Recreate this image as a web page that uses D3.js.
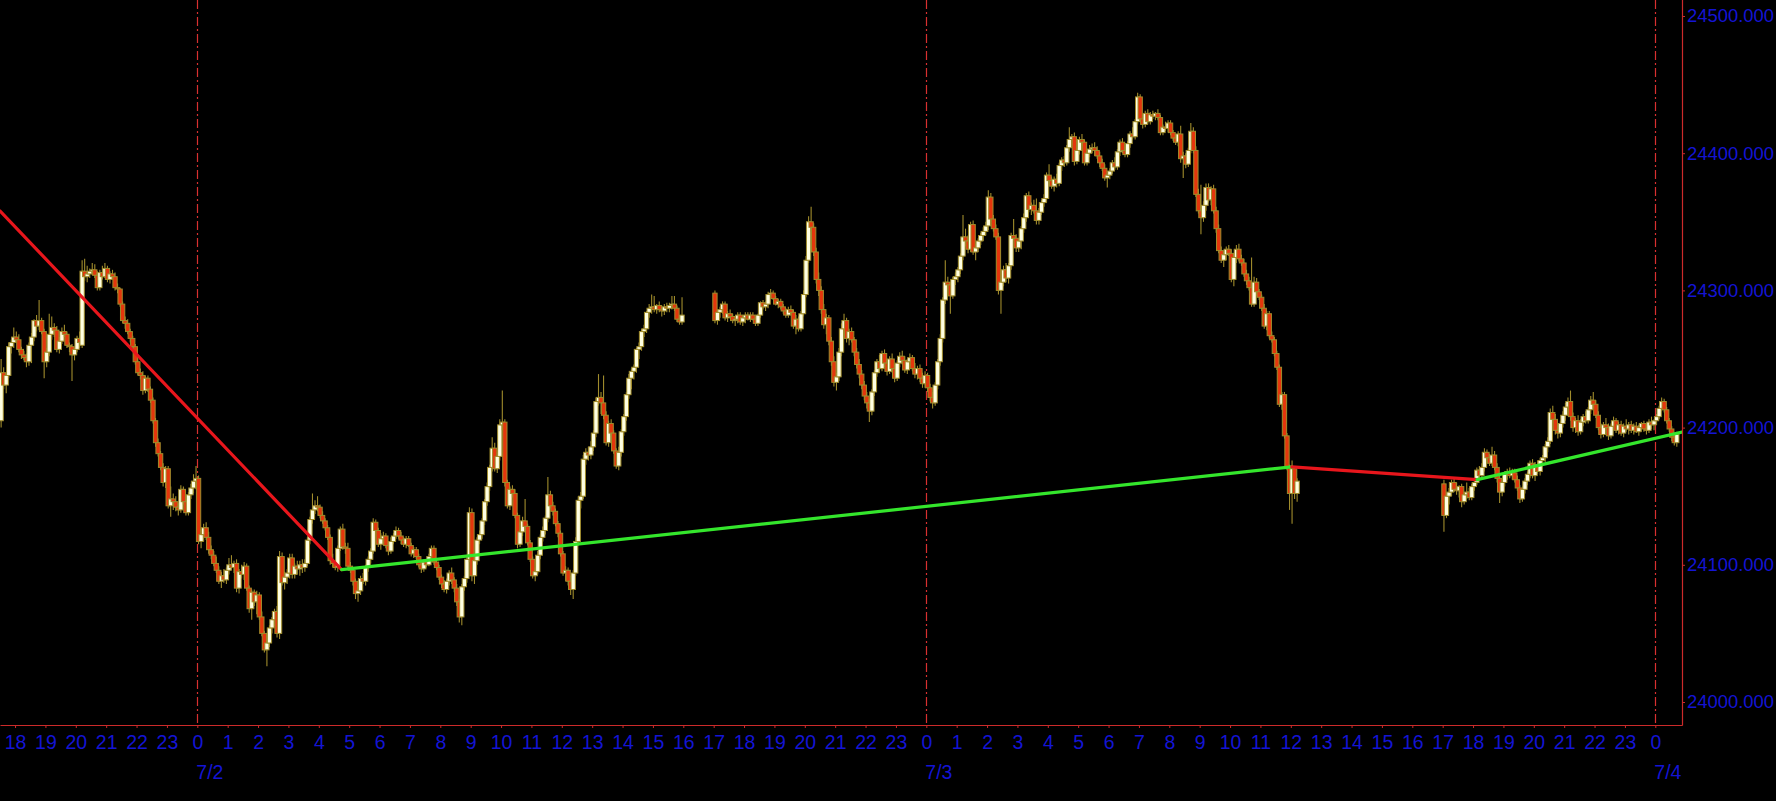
<!DOCTYPE html>
<html><head><meta charset="utf-8">
<script src="https://cdn.jsdelivr.net/npm/d3@7"></script>
<style>
html,body{margin:0;padding:0;background:#000;overflow:hidden;}
svg{display:block;}
</style></head><body>
<svg id="chart" width="1776" height="801"></svg>
<script>
// ---------------- DATA ----------------
// 5-minute candles [open, high, low, close]
const sessionAStart = "2018-07-01T17:30:00";
const sessionA = [
[24205,24250,24200,24240],[24240,24244,24228,24231],[24231,24240,24225,24238],[24238,24262,24236,24259],[24259,24264,24254,24262],[24262,24273,24258,24266],
[24266,24270,24262,24264],[24264,24268,24255,24257],[24257,24259,24250,24253],[24253,24256,24249,24251],[24251,24254,24244,24248],[24248,24262,24245,24260],[24260,24269,24247,24266],[24266,24279,24263,24278],[24278,24282,24270,24274],[24274,24293,24271,24278],[24278,24280,24268,24270],[24270,24272,24236,24248],
[24248,24258,24244,24255],[24255,24283,24252,24268],[24268,24281,24264,24273],[24273,24276,24266,24271],[24271,24274,24255,24257],[24257,24266,24254,24263],[24263,24273,24261,24270],[24270,24275,24266,24268],[24268,24270,24258,24260],[24260,24262,24255,24259],[24259,24261,24234,24253],[24253,24258,24249,24257],
[24257,24267,24255,24265],[24265,24270,24258,24262],[24260,24322,24258,24314],[24314,24323,24307,24310],[24310,24318,24306,24312],[24312,24316,24309,24314],[24314,24320,24311,24315],[24315,24319,24309,24311],[24311,24314,24300,24302],[24302,24315,24300,24313],[24313,24318,24308,24310],[24310,24320,24309,24316],
[24316,24318,24306,24308],[24308,24314,24305,24312],[24312,24315,24308,24310],[24310,24313,24300,24302],[24302,24305,24298,24301],[24301,24302,24288,24290],[24290,24292,24276,24278],[24278,24281,24272,24276],[24276,24279,24268,24270],[24270,24272,24262,24265],[24265,24267,24257,24259],[24259,24261,24246,24248],
[24248,24250,24238,24240],[24240,24243,24235,24238],[24238,24241,24224,24227],[24227,24238,24225,24236],[24236,24238,24226,24228],[24228,24230,24218,24220],[24220,24222,24203,24205],[24205,24207,24186,24189],[24189,24192,24179,24181],[24181,24183,24169,24171],[24171,24174,24157,24160],[24160,24172,24156,24170],
[24170,24172,24141,24143],[24143,24157,24135,24148],[24148,24152,24140,24146],[24146,24150,24139,24142],[24142,24145,24136,24140],[24140,24158,24138,24155],[24155,24157,24144,24146],[24146,24148,24136,24138],[24138,24153,24136,24151],[24151,24159,24148,24156],[24156,24166,24152,24161],[24161,24172,24155,24163],
[24163,24165,24115,24117],[24117,24126,24112,24122],[24122,24130,24117,24127],[24127,24131,24118,24120],[24120,24124,24108,24111],[24111,24114,24104,24107],[24107,24110,24099,24101],[24101,24106,24094,24096],[24096,24099,24086,24088],[24088,24095,24083,24092],[24092,24097,24087,24089],[24089,24098,24086,24096],
[24096,24105,24093,24100],[24100,24107,24096,24098],[24098,24103,24094,24101],[24101,24104,24080,24083],[24083,24097,24079,24095],[24095,24100,24090,24093],[24093,24102,24089,24099],[24099,24101,24081,24083],[24083,24085,24065,24068],[24068,24082,24060,24080],[24080,24082,24070,24073],[24073,24081,24064,24078],
[24078,24080,24060,24062],[24062,24066,24048,24050],[24050,24052,24036,24038],[24038,24045,24026,24043],[24043,24056,24040,24054],[24054,24062,24050,24060],[24060,24068,24055,24066],[24066,24070,24047,24050],[24050,24110,24046,24106],[24106,24109,24085,24087],[24087,24095,24082,24091],[24091,24097,24086,24094],
[24094,24108,24090,24105],[24105,24108,24090,24093],[24093,24101,24090,24099],[24099,24103,24093,24097],[24097,24103,24092,24100],[24100,24104,24094,24098],[24098,24104,24095,24101],[24101,24120,24099,24118],[24118,24135,24115,24133],[24133,24152,24130,24140],[24140,24147,24137,24143],[24143,24150,24139,24142],
[24142,24144,24134,24136],[24136,24139,24130,24132],[24132,24134,24125,24127],[24127,24129,24118,24120],[24120,24122,24100,24103],[24103,24108,24098,24101],[24101,24103,24096,24098],[24098,24114,24095,24112],[24112,24128,24110,24126],[24126,24130,24111,24113],[24113,24116,24108,24112],[24112,24116,24096,24099],
[24099,24102,24094,24096],[24096,24098,24085,24088],[24088,24090,24075,24079],[24079,24084,24073,24081],[24081,24092,24078,24090],[24090,24094,24086,24088],[24088,24100,24085,24098],[24098,24106,24095,24104],[24104,24112,24101,24110],[24110,24134,24108,24131],[24131,24133,24123,24125],[24125,24127,24113,24115],
[24115,24123,24111,24119],[24119,24124,24114,24121],[24121,24123,24112,24114],[24114,24117,24107,24110],[24110,24120,24108,24117],[24117,24123,24115,24121],[24121,24128,24119,24125],[24125,24127,24119,24121],[24121,24124,24115,24118],[24118,24120,24113,24115],[24115,24121,24112,24119],[24119,24121,24113,24114],
[24114,24116,24106,24108],[24108,24113,24105,24111],[24111,24113,24104,24106],[24106,24108,24098,24100],[24100,24103,24094,24097],[24097,24104,24095,24102],[24102,24104,24098,24100],[24100,24108,24099,24106],[24106,24114,24104,24112],[24112,24114,24100,24102],[24102,24104,24096,24098],[24098,24100,24089,24091],
[24091,24093,24083,24086],[24086,24089,24080,24082],[24082,24090,24079,24088],[24088,24096,24085,24094],[24094,24098,24086,24089],[24089,24091,24080,24083],[24083,24086,24070,24073],[24073,24075,24058,24062],[24062,24086,24056,24084],[24084,24092,24081,24090],[24090,24106,24087,24104],[24104,24142,24102,24138],
[24138,24141,24088,24092],[24092,24106,24086,24103],[24103,24120,24100,24118],[24118,24125,24115,24122],[24122,24134,24119,24132],[24132,24148,24129,24146],[24146,24160,24143,24157],[24157,24173,24154,24171],[24171,24193,24168,24185],[24185,24189,24168,24170],[24170,24182,24167,24179],[24179,24206,24176,24202],
[24202,24227,24198,24204],[24204,24206,24157,24160],[24160,24162,24141,24143],[24143,24157,24140,24155],[24155,24158,24149,24152],[24152,24155,24134,24136],[24136,24138,24112,24115],[24115,24126,24113,24124],[24124,24135,24121,24132],[24132,24148,24126,24128],[24128,24130,24114,24116],[24116,24118,24102,24104],
[24104,24106,24090,24092],[24092,24098,24088,24095],[24095,24110,24093,24107],[24107,24122,24104,24120],[24120,24128,24117,24125],[24125,24136,24122,24134],[24134,24164,24131,24151],[24151,24154,24141,24143],[24143,24146,24136,24139],[24139,24141,24128,24130],[24130,24132,24120,24123],[24123,24125,24106,24108],
[24108,24110,24092,24094],[24094,24099,24088,24096],[24096,24098,24085,24088],[24088,24092,24078,24082],[24082,24096,24075,24094],[24094,24120,24092,24117],[24117,24150,24114,24147],[24147,24153,24141,24150],[24150,24180,24148,24177],[24177,24185,24173,24182],[24182,24186,24176,24180],[24180,24190,24177,24186],
[24186,24198,24183,24196],[24196,24222,24193,24219],[24219,24239,24216,24222],[24222,24226,24210,24218],[24218,24238,24206,24209],[24209,24212,24187,24189],[24189,24205,24186,24203],[24203,24206,24194,24196],[24196,24198,24181,24183],[24183,24185,24170,24172],[24172,24186,24169,24182],[24182,24199,24179,24197],
[24197,24210,24194,24208],[24208,24226,24205,24224],[24224,24239,24221,24236],[24236,24243,24228,24241],[24241,24246,24235,24244],[24244,24258,24240,24257],[24257,24262,24250,24259],[24259,24272,24256,24270],[24270,24275,24266,24272],[24272,24285,24269,24284],[24284,24290,24280,24287],[24287,24297,24283,24288],
[24288,24296,24284,24286],[24286,24290,24283,24289],[24289,24292,24284,24286],[24286,24289,24281,24285],[24285,24290,24282,24288],[24288,24291,24284,24287],[24287,24291,24284,24289],[24289,24296,24286,24290],[24290,24296,24285,24287],[24287,24289,24277,24279],[24279,24282,24275,24277],[24277,24295,24275,24282]
];

const sessionBStart = "2018-07-02T17:00:00";
const sessionB = [
[24298,24300,24276,24278],[24278,24286,24275,24284],[24284,24288,24280,24286],[24286,24292,24283,24290],[24290,24292,24278,24280],[24280,24285,24277,24283],[24283,24286,24280,24281],[24281,24283,24276,24278],[24278,24281,24274,24279],[24279,24284,24276,24282],[24282,24284,24275,24277],[24277,24282,24274,24280],
[24280,24284,24276,24282],[24282,24284,24278,24279],[24279,24284,24277,24282],[24282,24284,24278,24279],[24279,24281,24274,24276],[24276,24283,24274,24282],[24282,24292,24280,24291],[24291,24293,24286,24288],[24288,24292,24285,24290],[24290,24299,24287,24297],[24297,24301,24294,24298],[24298,24300,24293,24294],
[24294,24296,24289,24290],[24290,24294,24287,24292],[24292,24294,24286,24288],[24288,24290,24283,24285],[24285,24287,24280,24282],[24282,24288,24280,24286],[24286,24289,24282,24284],[24284,24286,24272,24274],[24274,24282,24268,24279],[24279,24281,24270,24272],[24272,24285,24270,24283],[24283,24300,24281,24297],
[24297,24325,24295,24322],[24322,24354,24320,24350],[24350,24361,24343,24346],[24346,24349,24325,24328],[24328,24331,24305,24308],[24308,24313,24296,24300],[24300,24303,24283,24286],[24286,24290,24272,24275],[24275,24283,24268,24280],[24280,24282,24260,24263],[24263,24266,24245,24248],[24248,24252,24230,24233],
[24233,24240,24227,24237],[24237,24258,24234,24255],[24255,24276,24252,24272],[24272,24283,24266,24278],[24278,24280,24262,24265],[24265,24272,24260,24270],[24270,24273,24262,24264],[24264,24266,24252,24255],[24255,24258,24243,24246],[24246,24250,24236,24239],[24239,24242,24228,24231],[24231,24234,24220,24223],
[24223,24226,24214,24218],[24218,24221,24204,24212],[24212,24228,24209,24226],[24226,24242,24223,24240],[24240,24250,24237,24248],[24248,24253,24240,24243],[24243,24256,24241,24254],[24254,24257,24244,24247],[24247,24250,24238,24241],[24241,24252,24239,24250],[24250,24254,24240,24243],[24243,24246,24233,24236],
[24236,24249,24234,24247],[24247,24255,24244,24252],[24252,24256,24246,24249],[24249,24252,24240,24242],[24242,24250,24239,24248],[24248,24254,24245,24251],[24251,24253,24241,24243],[24243,24247,24236,24239],[24239,24245,24235,24243],[24243,24246,24233,24236],[24236,24240,24229,24232],[24232,24241,24229,24238],
[24238,24240,24226,24229],[24229,24232,24219,24222],[24222,24226,24214,24218],[24218,24233,24216,24231],[24231,24250,24228,24248],[24248,24268,24245,24265],[24265,24295,24262,24293],[24293,24322,24290,24306],[24306,24310,24302,24304],[24304,24306,24283,24296],[24296,24310,24294,24308],[24308,24313,24304,24310],
[24310,24317,24306,24315],[24315,24327,24312,24325],[24325,24355,24322,24339],[24339,24345,24332,24336],[24336,24340,24327,24330],[24330,24350,24328,24348],[24348,24351,24326,24328],[24328,24334,24322,24331],[24331,24338,24328,24336],[24336,24342,24333,24340],[24340,24346,24336,24343],[24343,24350,24340,24347],
[24347,24373,24344,24368],[24368,24371,24350,24352],[24352,24355,24343,24345],[24345,24348,24337,24339],[24339,24342,24297,24300],[24300,24309,24283,24306],[24306,24318,24303,24315],[24315,24320,24306,24309],[24309,24320,24305,24318],[24318,24342,24315,24340],[24340,24352,24336,24338],[24338,24341,24328,24331],
[24331,24338,24328,24336],[24336,24347,24330,24345],[24345,24356,24342,24353],[24353,24371,24350,24369],[24369,24372,24357,24359],[24359,24364,24355,24362],[24362,24366,24356,24358],[24358,24367,24348,24351],[24351,24360,24348,24357],[24357,24366,24355,24364],[24364,24370,24361,24367],[24367,24386,24364,24384],
[24384,24392,24378,24380],[24380,24383,24374,24376],[24376,24383,24372,24381],[24381,24385,24375,24378],[24378,24393,24376,24391],[24391,24397,24387,24395],[24395,24398,24390,24393],[24393,24406,24391,24404],[24404,24419,24401,24410],[24410,24414,24406,24412],[24412,24415,24391,24394],[24394,24404,24392,24402],
[24402,24412,24399,24410],[24410,24414,24405,24408],[24408,24410,24391,24393],[24393,24402,24391,24400],[24400,24406,24397,24403],[24403,24407,24400,24404],[24404,24408,24398,24402],[24402,24405,24396,24398],[24398,24401,24390,24393],[24393,24396,24387,24389],[24389,24392,24380,24382],[24382,24385,24375,24384],
[24384,24389,24381,24387],[24387,24395,24385,24393],[24393,24397,24388,24390],[24390,24403,24388,24401],[24401,24410,24398,24408],[24408,24411,24400,24402],[24402,24405,24397,24399],[24399,24409,24397,24407],[24407,24416,24404,24414],[24414,24419,24410,24412],[24412,24425,24410,24423],[24423,24444,24421,24441],
[24441,24443,24423,24425],[24425,24428,24418,24421],[24421,24431,24419,24429],[24429,24432,24421,24423],[24423,24430,24421,24428],[24428,24431,24425,24427],[24427,24430,24424,24429],[24429,24432,24424,24426],[24426,24428,24413,24415],[24415,24421,24413,24419],[24419,24423,24416,24418],[24418,24424,24415,24422],
[24422,24424,24413,24415],[24415,24417,24409,24411],[24411,24414,24406,24408],[24408,24416,24405,24414],[24414,24420,24393,24396],[24396,24401,24382,24398],[24398,24400,24389,24392],[24392,24404,24390,24402],[24402,24422,24400,24416],[24416,24419,24400,24402],[24402,24405,24368,24370],[24370,24374,24356,24358],
[24358,24377,24341,24353],[24353,24365,24350,24362],[24362,24378,24358,24375],[24375,24378,24364,24366],[24366,24376,24362,24374],[24374,24377,24356,24358],[24358,24361,24342,24345],[24345,24348,24327,24329],[24329,24332,24320,24322],[24322,24328,24317,24326],[24326,24332,24322,24330],[24330,24333,24325,24327],
[24327,24330,24306,24308],[24308,24327,24303,24324],[24324,24333,24320,24330],[24330,24334,24321,24323],[24323,24326,24318,24320],[24320,24323,24310,24312],[24312,24315,24304,24307],[24307,24310,24300,24302],[24302,24324,24288,24290],[24290,24310,24288,24306],[24306,24309,24296,24299],[24299,24301,24293,24295],
[24295,24297,24285,24287],[24287,24290,24272,24274],[24274,24285,24271,24283],[24283,24285,24265,24267],[24267,24270,24262,24264],[24264,24266,24252,24254],[24254,24256,24242,24244],[24244,24246,24215,24217],[24217,24226,24213,24224],[24224,24226,24192,24194],[24194,24196,24169,24171],[24171,24173,24140,24152],
[24152,24176,24130,24170],[24170,24172,24148,24152],[24152,24163,24146,24161]
];

const sessionCStart = "2018-07-03T17:00:00";
const sessionC = [
[24159,24162,24124,24136],[24136,24152,24134,24150],[24150,24156,24144,24153],[24153,24162,24150,24160],[24160,24163,24153,24155],[24155,24160,24151,24154],[24154,24158,24149,24157],[24157,24159,24142,24146],[24146,24153,24144,24151],[24151,24160,24148,24153],[24153,24156,24147,24149],[24149,24159,24147,24157],
[24157,24162,24154,24160],[24160,24171,24158,24169],[24169,24172,24162,24165],[24165,24174,24163,24171],[24171,24185,24168,24182],[24182,24184,24175,24178],[24178,24181,24172,24174],[24174,24186,24172,24180],[24180,24183,24169,24171],[24171,24174,24160,24163],[24163,24165,24145,24153],[24153,24162,24150,24160],
[24160,24168,24157,24166],[24166,24170,24162,24168],[24168,24171,24163,24165],[24165,24170,24162,24167],[24167,24170,24160,24162],[24162,24165,24154,24156],[24156,24158,24145,24148],[24148,24157,24146,24155],[24155,24163,24152,24161],[24161,24168,24158,24166],[24166,24176,24163,24174],[24174,24177,24163,24165],
[24165,24175,24161,24173],[24173,24176,24166,24168],[24168,24178,24165,24176],[24176,24180,24172,24178],[24178,24188,24175,24186],[24186,24193,24182,24190],[24190,24214,24188,24211],[24211,24216,24203,24206],[24206,24210,24195,24198],[24198,24202,24192,24196],[24196,24205,24193,24203],[24203,24212,24200,24209],
[24209,24218,24205,24215],[24215,24222,24211,24219],[24219,24227,24205,24208],[24208,24211,24197,24200],[24200,24207,24196,24205],[24205,24209,24194,24197],[24197,24206,24195,24204],[24204,24210,24201,24208],[24208,24212,24203,24205],[24205,24215,24203,24213],[24213,24223,24210,24220],[24220,24226,24214,24217],
[24217,24220,24207,24209],[24209,24212,24198,24200],[24200,24203,24192,24195],[24195,24204,24193,24202],[24202,24207,24198,24200],[24200,24203,24191,24194],[24194,24203,24192,24201],[24201,24208,24198,24205],[24205,24207,24196,24198],[24198,24204,24195,24202],[24202,24205,24194,24196],[24196,24203,24193,24201],
[24201,24206,24197,24199],[24199,24204,24195,24202],[24202,24205,24196,24198],[24198,24203,24195,24201],[24201,24204,24196,24197],[24197,24202,24194,24200],[24200,24204,24197,24203],[24203,24205,24197,24199],[24199,24203,24195,24198],[24198,24206,24196,24204],[24204,24208,24199,24202],[24202,24206,24198,24205],
[24205,24210,24202,24208],[24208,24216,24206,24214],[24214,24222,24212,24219],[24219,24221,24211,24213],[24213,24215,24203,24205],[24205,24207,24197,24199],[24199,24201,24190,24193],[24193,24196,24187,24189],[24189,24197,24186,24195]
];

// trend line vertices [time, price]
const trendDown1 = [["2018-07-01T17:30:00",24358],["2018-07-02T04:45:00",24096.5]];
const trendUp1   = [["2018-07-02T04:45:00",24096.5],["2018-07-03T12:02:00",24171.4]];
const trendDown2 = [["2018-07-03T12:02:00",24171.4],["2018-07-03T18:08:00",24162.1]];
const trendUp2   = [["2018-07-03T18:08:00",24162.1],["2018-07-04T00:53:00",24196.7]];

const dayStarts = ["2018-07-02T00:00:00","2018-07-03T00:00:00","2018-07-04T00:00:00"];
const dayLabels = ["7/2","7/3","7/4"];
const priceTicks = [24000,24100,24200,24300,24400,24500];

// ---------------- LAYOUT ----------------
const W = 1776, H = 801;
const plotRight = 1682, plotBottom = 725;
const axisRed = "#cc2a2a";
const labelBlue = "#1414d4";
const fontFam = "'Liberation Sans',Arial,sans-serif";
const fontSize = 19.5;

const x0 = d3.scaleTime()
  .domain([new Date(2018,6,2,0,0), new Date(2018,6,4,0,0)])
  .range([197.3, 1655.3]);
const x = d3.scaleTime().domain([x0.invert(0), x0.invert(plotRight)]).range([0, plotRight]);
const y = d3.scaleLinear().domain([24000, 24500]).range([702, 16]);

const svg = d3.select("#chart");
svg.append("rect").attr("width", W).attr("height", H).attr("fill", "#000");
svg.append("defs").append("clipPath").attr("id", "plotclip")
  .append("rect").attr("x", 0).attr("y", 0).attr("width", plotRight).attr("height", plotBottom);

// day separators
svg.append("g").selectAll("line").data(dayStarts).join("line")
  .attr("x1", d => Math.round(x(new Date(d))) + 0.5)
  .attr("x2", d => Math.round(x(new Date(d))) + 0.5)
  .attr("y1", 0).attr("y2", plotBottom)
  .attr("stroke", "#d83030").attr("stroke-width", 1.2)
  .attr("stroke-dasharray", "9,3,2,3");

// candles
const step = 5 * 60 * 1000;
function build(startStr, arr) {
  const t0 = new Date(startStr).getTime();
  return arr.map((d, i) => ({t: new Date(t0 + i * step), o: d[0], h: d[1], l: d[2], c: d[3]}));
}
const candles = [].concat(build(sessionAStart, sessionA), build(sessionBStart, sessionB), build(sessionCStart, sessionC));

const gC = svg.append("g").attr("clip-path", "url(#plotclip)");
const cx = d => x(new Date(d.t.getTime() + step / 2));
const wickCol = "#a08c2c";
const bodyW = 4.3;
const sel = gC.selectAll("g.candle").data(candles).join("g").attr("class", "candle");
sel.append("line")
  .attr("x1", cx).attr("x2", cx)
  .attr("y1", d => y(d.h)).attr("y2", d => y(d.l))
  .attr("stroke", wickCol).attr("stroke-width", 1.1);
sel.append("rect")
  .attr("x", d => cx(d) - bodyW / 2).attr("width", bodyW)
  .attr("y", d => y(Math.max(d.o, d.c)))
  .attr("height", d => Math.max(1.2, Math.abs(y(d.o) - y(d.c))))
  .attr("fill", d => d.c >= d.o ? "#ffffe2" : "#e4360c")
  .attr("stroke", wickCol).attr("stroke-width", 1);

// trend lines
const line = d3.line().x(d => x(new Date(d[0]))).y(d => y(d[1]));
const gT = svg.append("g").attr("clip-path", "url(#plotclip)");
[[trendDown1, "#e8161c"], [trendUp1, "#34e62c"], [trendDown2, "#e8161c"], [trendUp2, "#34e62c"]].forEach(([pts, col]) => {
  gT.append("path").attr("d", line(pts)).attr("fill", "none")
    .attr("stroke", col).attr("stroke-width", 3.2).attr("stroke-linecap", "round");
});

// bottom axis
const gx = svg.append("g").attr("transform", `translate(0,${plotBottom})`)
  .call(d3.axisBottom(x).ticks(d3.timeHour.every(1)).tickFormat(d3.timeFormat("%-H"))
        .tickSize(3).tickSizeOuter(0).tickPadding(7));
gx.select(".domain").attr("stroke", axisRed).attr("stroke-width", 1.2);
gx.selectAll(".tick line").attr("stroke", axisRed);
gx.selectAll(".tick text").attr("fill", labelBlue).attr("font-family", fontFam).attr("font-size", fontSize);

// date labels
svg.append("g").selectAll("text").data(dayStarts).join("text")
  .attr("x", d => x(new Date(d)) - 1)
  .attr("y", 779)
  .attr("fill", labelBlue).attr("font-family", fontFam).attr("font-size", fontSize)
  .text((d, i) => dayLabels[i]);

// right axis
svg.append("line").attr("x1", plotRight + 0.5).attr("x2", plotRight + 0.5)
  .attr("y1", 0).attr("y2", plotBottom + 0.5).attr("stroke", axisRed).attr("stroke-width", 1.2);
const gy = svg.append("g").attr("transform", `translate(${plotRight},0)`)
  .call(d3.axisRight(y).tickValues(priceTicks).tickFormat(d3.format(".3f"))
        .tickSize(3).tickSizeOuter(0).tickPadding(2));
gy.select(".domain").remove();
gy.selectAll(".tick line").attr("stroke", axisRed);
gy.selectAll(".tick text").attr("fill", labelBlue).attr("font-family", fontFam).attr("font-size", 18.4);
</script>
</body></html>
